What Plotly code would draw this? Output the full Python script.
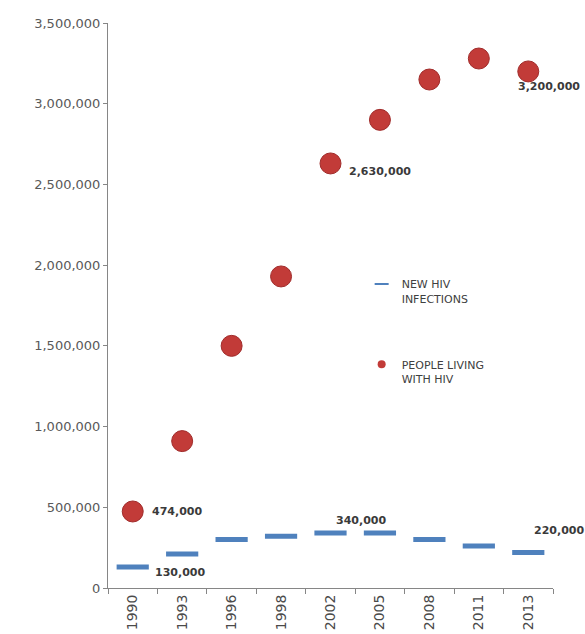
import plotly.graph_objects as go

years = ["1990", "1993", "1996", "1998", "2002", "2005", "2008", "2011", "2013"]
people_living = [474000, 910000, 1500000, 1930000, 2630000, 2900000, 3150000, 3280000, 3200000]
new_infections = [130000, 210000, 300000, 320000, 340000, 340000, 300000, 260000, 220000]

y_ticks = [0, 500000, 1000000, 1500000, 2000000, 2500000, 3000000, 3500000]

RED = "#C23B38"
RED_EDGE = "#A02B2A"
BLUE = "#4F81BD"
AXIS = "#868686"
TICK_TEXT = "#595959"
LABEL_TEXT = "#3A3A3A"
FONT = "DejaVu Sans"

# one slot per survey year along the x axis
slots = list(range(len(years)))

fig = go.Figure()

fig.add_trace(go.Scatter(
    x=slots, y=people_living, mode="markers", showlegend=False,
    marker=dict(size=21, color=RED, line=dict(color=RED_EDGE, width=1)),
    customdata=years, hovertemplate="%{customdata}: %{y:,}<extra></extra>",
))
fig.add_trace(go.Scatter(
    x=slots, y=new_infections, mode="markers", showlegend=False,
    marker=dict(symbol="line-ew", size=23, line=dict(color=BLUE, width=5)),
    customdata=years, hovertemplate="%{customdata}: %{y:,}<extra></extra>",
))

# legend entries with small symbols, one legend per entry
fig.add_trace(go.Scatter(
    x=[None], y=[None], mode="markers", name="NEW HIV<br>INFECTIONS",
    marker=dict(symbol="line-ew", size=10, line=dict(color=BLUE, width=2)),
    legend="legend",
))
fig.add_trace(go.Scatter(
    x=[None], y=[None], mode="markers", name="PEOPLE LIVING<br>WITH HIV",
    marker=dict(size=8, color=RED, line=dict(width=0)),
    legend="legend2",
))

# data labels: (series, year index, xshift, yshift)
label_specs = [
    (people_living, 0, 17, 0),
    (people_living, 4, 16, -8),
    (people_living, 8, -12, -15),
    (new_infections, 0, 20, -5),
    (new_infections, 4, 3, 13),
    (new_infections, 8, 4, 22),
]
for series, i, dx, dy in label_specs:
    fig.add_annotation(
        x=slots[i], y=series[i], text=f"{series[i]:,}", showarrow=False,
        xanchor="left", yanchor="middle", xshift=dx, yshift=dy,
        font=dict(family=FONT, size=11, color=LABEL_TEXT, weight="bold"),
    )

legend_common = dict(
    bgcolor="rgba(0,0,0,0)", borderwidth=0,
    font=dict(family=FONT, size=11, color="#404040"),
    xanchor="left", yanchor="top", valign="top",
    itemclick=False, itemdoubleclick=False,
)
fig.update_layout(
    width=585, height=634,
    margin=dict(l=108, r=32, t=23, b=46),
    paper_bgcolor="white", plot_bgcolor="white",
    font=dict(family=FONT, color=TICK_TEXT),
    legend=dict(x=0.57, y=0.562, **legend_common),
    legend2=dict(x=0.57, y=0.42, **legend_common),
    xaxis=dict(
        range=[-0.5, len(years) - 0.5],
        tickmode="array", tickvals=slots, ticktext=years,
        ticks="", tickangle=-90, automargin=False,
        minor=dict(tick0=0.5, dtick=1, ticks="outside", ticklen=5, tickcolor=AXIS, showgrid=False),
        showline=True, linecolor=AXIS, linewidth=1,
        showgrid=False, zeroline=False,
        tickfont=dict(family=FONT, size=14, color="#4A4A4A"),
    ),
    yaxis=dict(
        range=[0, 3500000], tickvals=y_ticks,
        tickformat=",d", automargin=False,
        showline=True, linecolor=AXIS, linewidth=1,
        ticks="outside", ticklen=4, tickcolor=AXIS,
        showgrid=False, zeroline=False,
        tickfont=dict(family=FONT, size=13, color=TICK_TEXT),
    ),
)

fig.write_html("out.html")
